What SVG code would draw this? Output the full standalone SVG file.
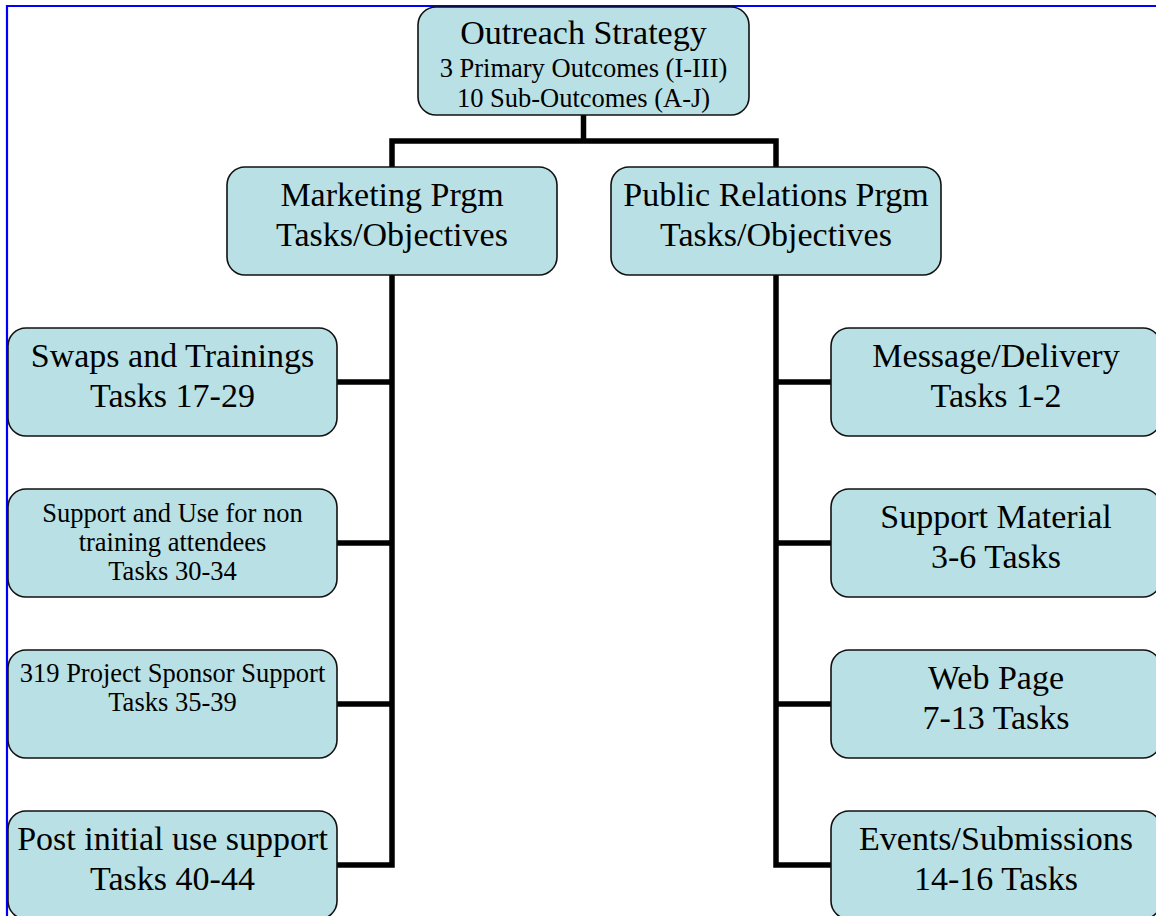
<svg xmlns="http://www.w3.org/2000/svg" width="1156" height="916" viewBox="0 0 1156 916">
<style>
.box{fill:#b9e0e4;stroke:#111;stroke-width:1.6}
.t{font-family:"Liberation Serif","Times New Roman",serif;fill:#000;text-anchor:middle}
.big{font-size:34px}
.sm{font-size:26.5px}
.con{fill:none;stroke:#000;stroke-width:5.5;stroke-linejoin:miter}
</style>
<defs>
<clipPath id="clipTop"><rect x="418" y="7" width="331" height="106"/></clipPath>
</defs>
<rect x="0" y="0" width="1156" height="916" fill="#fff"/>
<path d="M7,916 V6 H1156" fill="none" stroke="#0000ff" stroke-width="2.2"/>
<g id="connectors">
<path class="con" d="M583.5,115 V141"/>
<path class="con" d="M392,167 V141 H776 V167"/>
<path class="con" d="M392,275 V865 H337"/>
<path class="con" d="M337,382 H392 M337,543 H392 M337,704 H392"/>
<path class="con" d="M776,275 V865 H831"/>
<path class="con" d="M831,382 H776 M831,543 H776 M831,704 H776"/>
</g>
<g id="outreach">
<rect class="box" x="418" y="7" width="331" height="108" rx="18"/>
<g clip-path="url(#clipTop)">
<text class="t big" x="583.5" y="44">Outreach Strategy</text>
<text class="t sm" x="583.5" y="77">3 Primary Outcomes (I-III)</text>
<text class="t sm" x="583.5" y="107">10 Sub-Outcomes (A-J)</text>
</g>
</g>
<g id="marketing">
<rect class="box" x="227" y="167" width="330" height="108" rx="18"/>
<text class="t big" x="392" y="206">Marketing Prgm</text>
<text class="t big" x="392" y="246">Tasks/Objectives</text>
</g>
<g id="pr">
<rect class="box" x="611" y="167" width="330" height="108" rx="18"/>
<text class="t big" x="776" y="206">Public Relations Prgm</text>
<text class="t big" x="776" y="246">Tasks/Objectives</text>
</g>
<g id="swaps">
<rect class="box" x="8" y="328" width="329" height="108" rx="18"/>
<text class="t big" x="172.5" y="367">Swaps and Trainings</text>
<text class="t big" x="172.5" y="407">Tasks 17-29</text>
</g>
<g id="support-use">
<rect class="box" x="8" y="489" width="329" height="108" rx="18"/>
<text class="t sm" x="172.5" y="522">Support and Use for non</text>
<text class="t sm" x="172.5" y="551">training attendees</text>
<text class="t sm" x="172.5" y="580">Tasks 30-34</text>
</g>
<g id="sponsor">
<rect class="box" x="8" y="650" width="329" height="108" rx="18"/>
<text class="t sm" x="172.5" y="682">319 Project Sponsor Support</text>
<text class="t sm" x="172.5" y="711">Tasks 35-39</text>
</g>
<g id="post">
<rect class="box" x="8" y="811" width="329" height="108" rx="18"/>
<text class="t big" x="172.5" y="850">Post initial use support</text>
<text class="t big" x="172.5" y="890">Tasks 40-44</text>
</g>
<g id="message">
<rect class="box" x="831" y="328" width="330" height="108" rx="18"/>
<text class="t big" x="996" y="367">Message/Delivery</text>
<text class="t big" x="996" y="407">Tasks 1-2</text>
</g>
<g id="material">
<rect class="box" x="831" y="489" width="330" height="108" rx="18"/>
<text class="t big" x="996" y="528">Support Material</text>
<text class="t big" x="996" y="568">3-6 Tasks</text>
</g>
<g id="web">
<rect class="box" x="831" y="650" width="330" height="108" rx="18"/>
<text class="t big" x="996" y="689">Web Page</text>
<text class="t big" x="996" y="729">7-13 Tasks</text>
</g>
<g id="events">
<rect class="box" x="831" y="811" width="330" height="108" rx="18"/>
<text class="t big" x="996" y="850">Events/Submissions</text>
<text class="t big" x="996" y="890">14-16 Tasks</text>
</g>
</svg>
